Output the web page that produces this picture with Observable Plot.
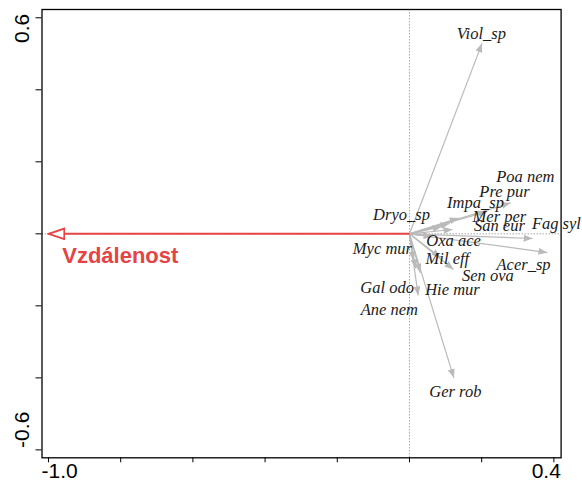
<!DOCTYPE html>
<html>
<head>
<meta charset="utf-8">
<script src="https://cdn.jsdelivr.net/npm/d3@7"></script>
<script src="https://cdn.jsdelivr.net/npm/@observablehq/plot@0.6"></script>
<style>
  html, body { margin: 0; padding: 0; background: #fff; }
  svg { display: block; }
</style>
</head>
<body>
<div id="chart"></div>
<script>
// Species (response variables): arrow tip coordinates and label anchors (data units)
const species = ["Viol_sp","Poa nem","Pre pur","Impa_sp","Dryo_sp","Mer per","San eur","Fag syl","Oxa ace","Acer_sp","Myc mur","Mil eff","Sen ova","Hie mur","Gal odo","Ane nem","Ger rob"];
const speciesX = [0.201, 0.280, 0.216, 0.136, 0.089, 0.111, 0.119, 0.341, 0.064, 0.382, 0.011, 0.086, 0.122, 0.030, 0.017, 0.024, 0.123];
const speciesY = [0.529, 0.086, 0.062, 0.044, 0.020, 0.029, 0.012, -0.013, -0.008, -0.052, -0.074, -0.066, -0.099, -0.108, -0.096, -0.171, -0.400];
const labelX = [0.199, 0.321, 0.263, 0.183, -0.022, 0.249, 0.249, 0.407, 0.122, 0.316, -0.075, 0.105, 0.217, 0.119, -0.062, -0.056, 0.127];
const labelY = [0.557, 0.159, 0.117, 0.087, 0.054, 0.048, 0.023, 0.029, -0.019, -0.085, -0.040, -0.070, -0.116, -0.154, -0.150, -0.210, -0.438];

// Environmental variable
const envNames = ["Vzdálenost"];
const envX = [-1.0];
const envY = [0.0];
const envLabelX = [-0.962];
const envLabelY = [-0.080];

// Axes
const xTicks = [-1.0, -0.8, -0.6, -0.4, -0.2, 0.0, 0.2, 0.4];
const yTicks = [-0.6, -0.4, -0.2, 0.0, 0.2, 0.4, 0.6];
const xTickLabelsLow = [{v: -1.0, t: "-1.0"}];
const xTickLabelsHigh = [{v: 0.4, t: "0.4"}];
const yTickLabelsHigh = [{v: 0.6, t: "0.6"}];
const yTickLabelsLow = [{v: -0.6, t: "-0.6"}];

const spData = species.map((name, i) => ({name, x: speciesX[i], y: speciesY[i], lx: labelX[i], ly: labelY[i]}));
const envData = envNames.map((name, i) => ({name, x: envX[i], y: envY[i], lx: envLabelX[i], ly: envLabelY[i]}));

const RED = "#e64345";
const GRAY = "#bababa";
const sans = "'Liberation Sans', Arial, sans-serif";
const serif = "'Liberation Serif', 'Times New Roman', serif";

const svg = Plot.plot({
  width: 582,
  height: 487,
  marginLeft: 41.5,
  marginRight: 21.4,
  marginTop: 9,
  marginBottom: 29.7,
  x: {domain: [-1.018, 0.42], label: null},
  y: {domain: [-0.622, 0.623], label: null},
  style: {background: "#fff", fontFamily: sans},
  marks: [
    Plot.ruleX([0], {stroke: "#a8a8a8", strokeWidth: 1, strokeDasharray: "1.5,1.5"}),
    Plot.ruleY([0], {stroke: "#a8a8a8", strokeWidth: 1, strokeDasharray: "1.5,1.5"}),
    Plot.link(spData, {x1: 0, y1: 0, x2: "x", y2: "y", stroke: GRAY, strokeWidth: 1.2}),
    Plot.link(envData, {x1: 0, y1: 0, x2: "x", y2: "y", stroke: RED, strokeWidth: 2}),
    Plot.text(spData, {x: "lx", y: "ly", text: "name", fontFamily: serif, fontStyle: "italic", fontSize: 16.5, fill: "#1a1a1a", textAnchor: "middle", lineAnchor: "middle"}),
    Plot.text(envData, {x: "lx", y: "ly", text: "name", fontFamily: sans, fontWeight: "bold", fontSize: 22, fill: RED, textAnchor: "start", lineAnchor: "bottom"}),
    Plot.frame({stroke: "#000", strokeWidth: 1.3}),
    Plot.axisX({ticks: xTicks, anchor: "bottom", tickSize: 5, tickFormat: () => "", label: null, stroke: "#000"}),
    Plot.axisY({ticks: yTicks, anchor: "left", tickSize: 6, tickFormat: () => "", label: null, stroke: "#000"}),
    Plot.text(xTickLabelsLow, {x: "v", text: "t", frameAnchor: "bottom", lineAnchor: "top", textAnchor: "start", dx: -7, dy: 5, fontSize: 21, fill: "#000", fontFamily: sans}),
    Plot.text(xTickLabelsHigh, {x: "v", text: "t", frameAnchor: "bottom", lineAnchor: "top", textAnchor: "end", dx: 7, dy: 5, fontSize: 21, fill: "#000", fontFamily: sans}),
    Plot.text(yTickLabelsHigh, {y: "v", text: "t", frameAnchor: "left", rotate: -90, lineAnchor: "bottom", textAnchor: "end", dx: -13, dy: -4, fontSize: 21, fill: "#000", fontFamily: sans}),
    Plot.text(yTickLabelsLow, {y: "v", text: "t", frameAnchor: "left", rotate: -90, lineAnchor: "bottom", textAnchor: "start", dx: -13, dy: -2, fontSize: 21, fill: "#000", fontFamily: sans})
  ]
});

// Arrowhead markers
const ns = "http://www.w3.org/2000/svg";
function makeMarker(id, w, h, pathD, fill, stroke, sw) {
  const m = document.createElementNS(ns, "marker");
  m.setAttribute("id", id);
  m.setAttribute("viewBox", `0 0 ${w} ${h}`);
  m.setAttribute("refX", String(w - (stroke ? 1 : 0)));
  m.setAttribute("refY", String(h / 2));
  m.setAttribute("markerWidth", String(w));
  m.setAttribute("markerHeight", String(h));
  m.setAttribute("markerUnits", "userSpaceOnUse");
  m.setAttribute("orient", "auto");
  const p = document.createElementNS(ns, "path");
  p.setAttribute("d", pathD);
  p.setAttribute("fill", fill);
  if (stroke) { p.setAttribute("stroke", stroke); p.setAttribute("stroke-width", sw); }
  m.appendChild(p);
  return m;
}
const defs = document.createElementNS(ns, "defs");
defs.appendChild(makeMarker("grayHead", 9, 7, "M0,0L9,3.5L0,7Z", GRAY, null, 0));
defs.appendChild(makeMarker("redHead", 18, 13, "M1.2,1.2L16.8,6.5L1.2,11.8Z", "#fff", RED, 1.8));
svg.insertBefore(defs, svg.firstChild);

svg.querySelectorAll("g").forEach(g => {
  const st = (g.getAttribute("stroke") || "").toLowerCase();
  if (st === GRAY.toLowerCase() || st === RED.toLowerCase()) {
    const id = st === RED.toLowerCase() ? "redHead" : "grayHead";
    g.querySelectorAll("path, line").forEach(p => p.setAttribute("marker-end", `url(#${id})`));
  }
});

document.getElementById("chart").appendChild(svg);
</script>
</body>
</html>
